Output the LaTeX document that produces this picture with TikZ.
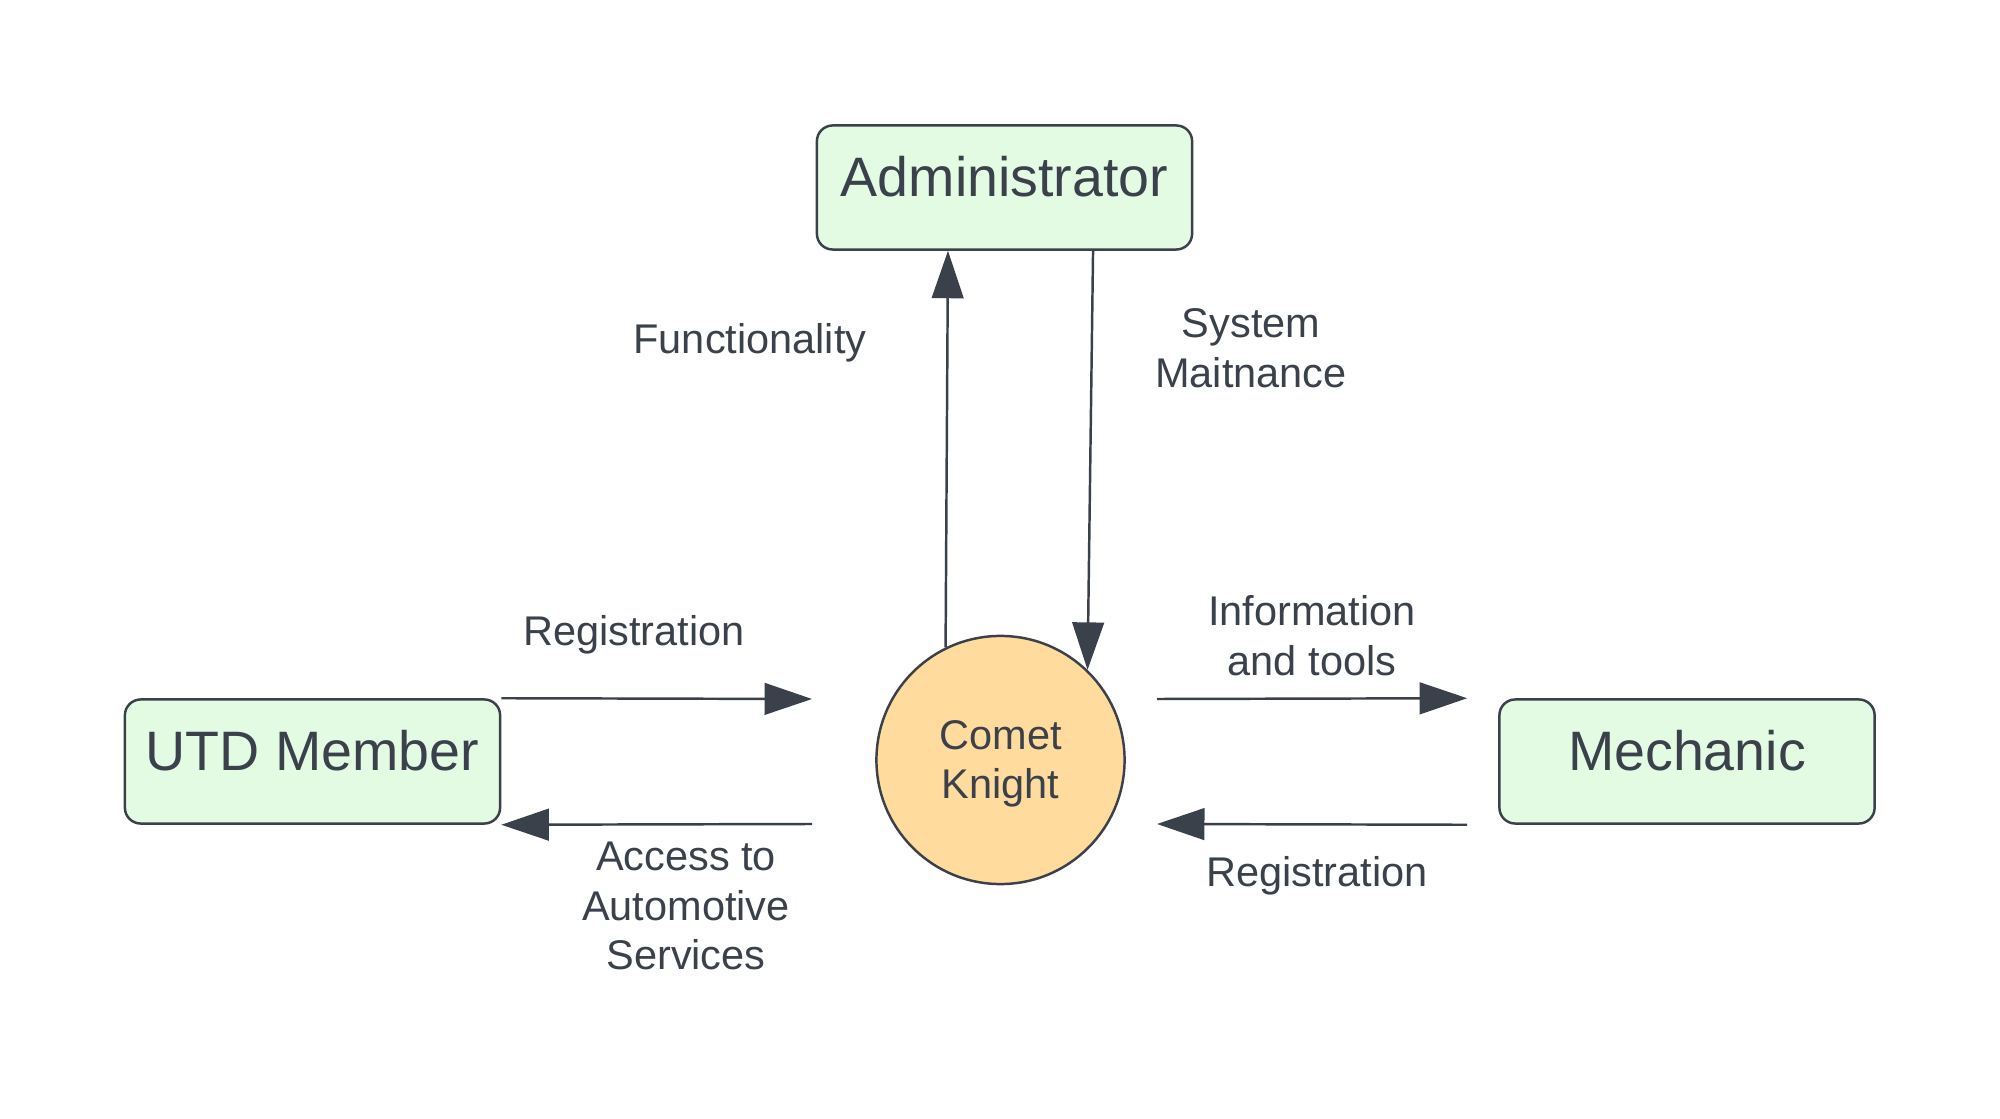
\documentclass[tikz,border=0pt]{standalone}
\usepackage{fontspec}
\setmainfont{Liberation Sans}
\usetikzlibrary{arrows.meta}
\definecolor{inkgray}{HTML}{3A414A}
\definecolor{boxgreen}{HTML}{E3FAE3}
\definecolor{knightorange}{HTML}{FFDB9E}

\begin{document}
\begin{tikzpicture}[x = .01cm, y = -.01cm,
  actor/.style = {draw = inkgray, line width = .7pt, fill = boxgreen, rounded corners = 4.5pt, minimum width = 3.75cm, minimum height = 1.24cm, inner sep = 0pt, text = inkgray, font = \fontsize{15.8pt}{19pt}\selectfont, text height = 10.9pt, text depth = 5.6pt},
  process/.style = {circle, draw = inkgray, line width = .7pt, fill = knightorange, minimum size = 2.48cm, inner sep = 0pt, align = center, text = inkgray, font = \fontsize{11.8pt}{14pt}\selectfont, text height = 22.1pt, text depth = 0pt},
  flow/.style = {draw = inkgray, line width = .7pt, -{Triangle[length = 13.5pt, width = 9pt]}},
  flowlabel/.style = {align = center, text = inkgray, font = \fontsize{11.8pt}{14.1pt}\selectfont, text height = 8.1pt, text depth = 0pt, inner sep = 0pt}]
\useasboundingbox (0,0) rectangle (2000,1119);
\node[actor] (admin) at (1004.5,187.5) {Administrator};
\node[actor] (utd) at (312.5,761.5) {UTD Member};
\node[actor] (mech) at (1687,761.5) {Mechanic};
\node[process] (ck) at (1000.5,760) {Comet\\Knight};
\coordinate (regIn) at (812,699);
\coordinate (accOut) at (812,824);
\coordinate (infoOut) at (1157,699);
\coordinate (regBack) at (1157,824);
\draw[flow] (ck.116) -- ([xshift = -.565cm]admin.south);
\draw[flow] ([xshift = .885cm]admin.south) -- (ck.46);
\draw[flow] (utd.north east) -- (regIn);
\draw[flow] (accOut) -- (utd.south east);
\draw[flow] (infoOut) -- ([xshift = -.31cm]mech.north west);
\draw[flow] ([xshift = -.31cm]mech.south west) -- (regBack);
\node[flowlabel] (fnlabel) at (750,339) {Functionality};
\node[flowlabel, text height = 22.2pt] (smlabel) at (1251,348) {System\\Maitnance};
\node[flowlabel] (reglabel) at (634,631.5) {Registration};
\node[flowlabel, text height = 36.3pt] (acclabel) at (686,906) {Access to\\Automotive\\Services};
\node[flowlabel, text height = 22.2pt] (infolabel) at (1312,636) {Information\\and tools};
\node[flowlabel] (mreglabel) at (1317,872.5) {Registration};
\end{tikzpicture}
\end{document}
